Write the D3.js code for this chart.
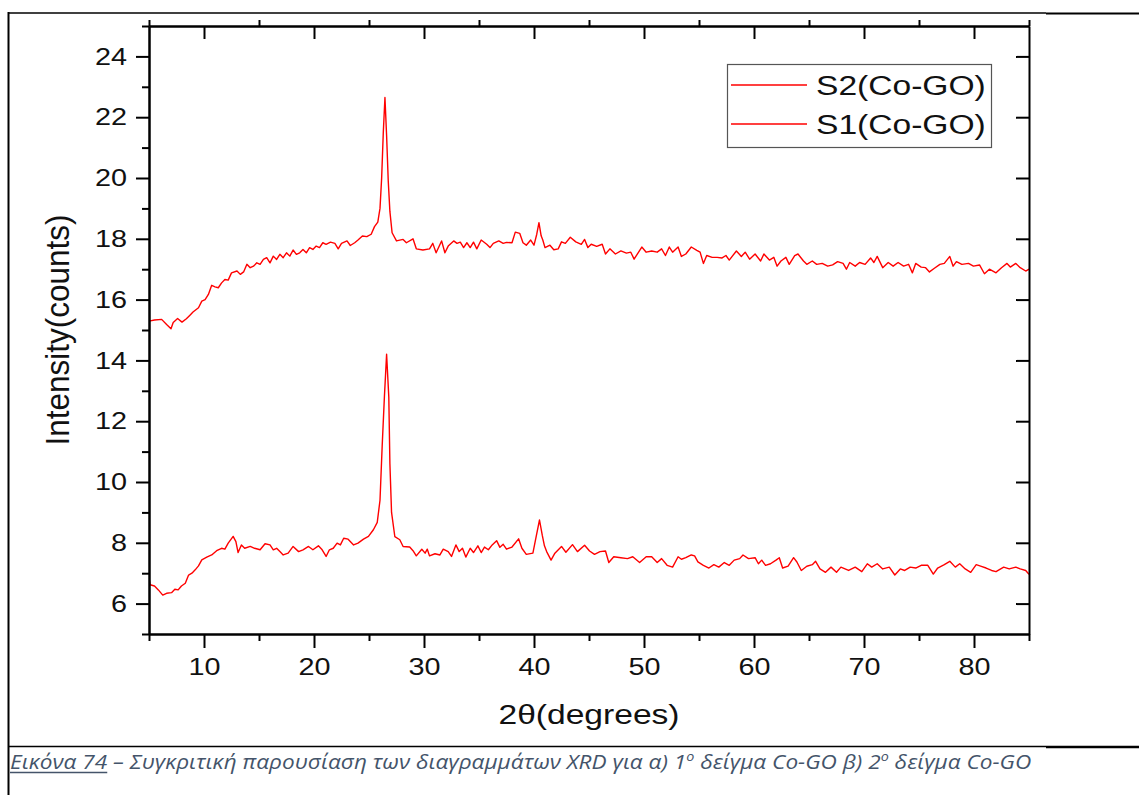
<!DOCTYPE html>
<html>
<head>
<meta charset="utf-8">
<script src="https://cdn.jsdelivr.net/npm/d3@7"></script>
<style>
  html, body { margin: 0; padding: 0; background: #ffffff; }
  svg { display: block; }
</style>
</head>
<body>
<svg id="chart" width="1139" height="795"></svg>
<script>
// ---- XRD patterns (2θ in degrees, intensity in counts) ----
const s2Theta = [5.0, 5.5, 6.15, 6.6, 7.0, 7.2, 7.6, 8.0, 8.4, 8.7, 9.0, 9.5, 9.8, 10.1, 10.4, 10.7, 11.0, 11.3, 11.6, 11.9,
  12.2, 12.5, 13.0, 13.3, 13.6, 13.9, 14.2, 14.5, 14.8, 15.1, 15.4, 15.7, 16.0, 16.3, 16.6, 16.9, 17.2, 17.5, 17.8, 18.1,
  18.4, 18.7, 19.0, 19.3, 19.6, 19.9, 20.2, 20.5, 20.8, 21.1, 21.5, 21.9, 22.2, 22.5, 23.0, 23.3, 23.7, 24.0, 24.4, 24.8,
  25.2, 25.5, 25.8, 26.0, 26.15, 26.3, 26.45, 26.6, 26.75, 26.9, 27.1, 27.5, 28.1, 28.4, 29.0, 29.3, 29.9, 30.5, 30.8, 31.1,
  31.6, 31.9, 32.2, 32.7, 33.0, 33.3, 33.6, 33.9, 34.2, 34.5, 34.8, 35.2, 35.7, 36.0, 36.3, 36.8, 37.2, 37.5, 38.0, 38.3,
  38.7, 39.0, 39.3, 39.7, 40.0, 40.25, 40.45, 40.65, 40.8, 41.0, 41.45, 41.8, 42.2, 42.5, 42.85, 43.3, 43.8, 44.3, 44.6, 44.9,
  45.2, 45.7, 46.2, 46.5, 46.9, 47.4, 47.9, 48.4, 48.8, 49.1, 49.8, 50.2, 50.7, 51.2, 51.6, 51.95, 52.3, 52.6, 53.1, 53.4,
  53.8, 54.3, 54.8, 55.1, 55.4, 55.7, 56.2, 56.65, 57.1, 57.45, 57.75, 58.4, 58.85, 59.2, 59.6, 60.1, 60.6, 60.9, 61.4, 61.8,
  62.1, 62.45, 62.9, 63.2, 63.7, 64.0, 64.5, 64.8, 65.3, 65.7, 66.2, 66.7, 67.15, 67.6, 68.1, 68.4, 68.7, 69.2, 69.6, 70.1,
  70.6, 70.9, 71.2, 71.7, 72.2, 72.65, 73.1, 73.6, 74.05, 74.4, 74.7, 75.2, 75.6, 75.95, 76.4, 76.9, 77.3, 77.8, 78.1, 78.4,
  78.9, 79.5, 79.95, 80.5, 80.95, 81.4, 82.0, 82.5, 83.0, 83.3, 83.8, 84.2, 84.7, 85.0];
const s2Counts = [15.29, 15.33, 15.35, 15.18, 15.04, 15.25, 15.38, 15.26, 15.37, 15.48, 15.59, 15.73, 15.95, 16.0, 16.17, 16.47, 16.42, 16.39, 16.55, 16.66,
  16.64, 16.88, 16.94, 16.83, 16.91, 17.16, 17.05, 17.1, 17.21, 17.16, 17.32, 17.38, 17.21, 17.43, 17.32, 17.49, 17.38, 17.54, 17.43, 17.63,
  17.49, 17.54, 17.65, 17.54, 17.71, 17.65, 17.76, 17.71, 17.87, 17.82, 17.89, 17.85, 17.67, 17.85, 17.93, 17.78, 17.87, 17.96, 18.09, 18.07,
  18.15, 18.4, 18.55, 19.0, 20.0, 21.5, 22.65, 21.4, 19.9, 18.9, 18.2, 17.93, 17.98, 17.87, 18.0, 17.67, 17.63, 17.67, 17.85, 17.54,
  17.93, 17.54, 17.76, 17.93, 17.85, 17.89, 17.71, 17.87, 17.71, 17.89, 17.67, 17.96, 17.82, 17.71, 17.85, 17.93, 17.85, 17.88, 17.87, 18.22,
  18.18, 17.87, 17.79, 17.96, 17.79, 18.15, 18.53, 18.1, 17.96, 17.71, 17.79, 17.64, 17.67, 17.9, 17.85, 18.05, 17.9, 17.82, 17.98, 17.71,
  17.82, 17.75, 17.82, 17.5, 17.67, 17.5, 17.6, 17.53, 17.56, 17.33, 17.73, 17.56, 17.6, 17.56, 17.67, 17.45, 17.73, 17.56, 17.73, 17.42,
  17.5, 17.73, 17.62, 17.56, 17.19, 17.45, 17.39, 17.39, 17.37, 17.45, 17.3, 17.6, 17.42, 17.56, 17.33, 17.5, 17.27, 17.5, 17.3, 17.39,
  17.1, 17.27, 17.39, 17.16, 17.45, 17.5, 17.27, 17.16, 17.27, 17.16, 17.19, 17.1, 17.14, 17.25, 17.19, 17.0, 17.22, 17.1, 17.22, 17.16,
  17.37, 17.22, 17.42, 17.05, 17.22, 17.1, 17.22, 17.1, 17.16, 16.88, 17.19, 17.07, 17.05, 16.91, 17.03, 17.16, 17.19, 17.42, 17.1, 17.25,
  17.16, 17.19, 17.1, 17.14, 16.85, 17.0, 16.88, 17.05, 17.19, 17.07, 17.19, 17.05, 16.94, 17.0];

const s1Theta = [5.0, 5.1, 5.5, 5.85, 6.25, 6.6, 7.05, 7.35, 7.65, 7.95, 8.3, 8.6, 8.9, 9.2, 9.5, 9.8, 10.25, 10.7, 11.15, 11.6,
  11.9, 12.2, 12.65, 12.9, 13.1, 13.4, 13.7, 14.2, 14.6, 15.1, 15.55, 16.0, 16.3, 16.6, 16.9, 17.2, 17.65, 18.1, 18.6, 19.0,
  19.5, 19.9, 20.4, 20.7, 21.1, 21.4, 21.75, 22.1, 22.4, 22.7, 23.1, 23.6, 24.0, 24.5, 24.95, 25.4, 25.75, 26.0, 26.2, 26.4,
  26.6, 26.8, 26.9, 27.05, 27.35, 27.8, 28.1, 28.7, 29.0, 29.3, 29.8, 30.1, 30.3, 30.5, 31.0, 31.45, 31.75, 32.2, 32.5, 32.9,
  33.2, 33.5, 33.8, 34.2, 34.5, 34.9, 35.2, 35.5, 35.85, 36.2, 36.6, 36.9, 37.2, 37.5, 38.0, 38.6, 38.9, 39.3, 39.9, 40.25,
  40.5, 40.75, 40.95, 41.15, 41.55, 41.9, 42.5, 42.9, 43.5, 43.95, 44.6, 45.05, 45.5, 46.0, 46.5, 46.8, 47.25, 47.9, 48.5, 48.98,
  49.6, 50.2, 50.7, 51.2, 51.6, 52.1, 52.6, 53.1, 53.4, 53.8, 54.3, 54.6, 54.9, 55.4, 55.9, 56.35, 56.8, 57.3, 57.75, 58.2,
  58.7, 59.0, 59.5, 60.1, 60.4, 60.7, 61.05, 61.5, 62.0, 62.3, 62.6, 63.1, 63.6, 63.9, 64.3, 64.8, 65.3, 65.6, 66.0, 66.5,
  67.0, 67.5, 67.9, 68.6, 69.2, 69.8, 70.3, 70.7, 71.2, 71.7, 72.3, 72.8, 73.3, 73.7, 74.2, 74.7, 75.2, 75.8, 76.3, 76.7,
  77.3, 77.8, 78.3, 78.7, 79.2, 79.7, 80.2, 80.6, 81.1, 81.6, 82.0, 82.7, 83.2, 83.8, 84.2, 84.7, 85.0];
const s1Counts = [6.85, 6.62, 6.58, 6.45, 6.28, 6.34, 6.36, 6.47, 6.45, 6.58, 6.67, 6.94, 7.0, 7.11, 7.24, 7.44, 7.53, 7.6, 7.74, 7.82,
  7.79, 7.99, 8.21, 8.04, 7.68, 7.93, 7.82, 7.88, 7.82, 7.77, 7.97, 7.93, 7.77, 7.82, 7.71, 7.6, 7.66, 7.88, 7.71, 7.77,
  7.88, 7.77, 7.9, 7.79, 7.55, 7.77, 7.82, 7.99, 7.93, 8.15, 8.12, 7.93, 7.99, 8.12, 8.21, 8.43, 8.67, 9.4, 11.2, 12.8,
  14.2, 12.8, 10.6, 9.0, 8.2, 8.1, 7.88, 7.86, 7.74, 7.57, 7.79, 7.66, 7.79, 7.57, 7.64, 7.6, 7.79, 7.71, 7.55, 7.93,
  7.71, 7.82, 7.53, 7.82, 7.68, 7.9, 7.68, 7.86, 7.77, 7.93, 8.07, 7.85, 7.95, 7.79, 7.86, 8.13, 7.82, 7.62, 7.66, 8.3,
  8.75, 8.25, 7.9, 7.71, 7.43, 7.66, 7.88, 7.69, 7.94, 7.71, 7.92, 7.73, 7.62, 7.71, 7.73, 7.35, 7.54, 7.51, 7.48, 7.54,
  7.35, 7.54, 7.54, 7.35, 7.48, 7.26, 7.2, 7.54, 7.46, 7.51, 7.6, 7.57, 7.37, 7.26, 7.17, 7.28, 7.2, 7.35, 7.26, 7.43,
  7.48, 7.6, 7.48, 7.51, 7.31, 7.43, 7.26, 7.31, 7.43, 7.51, 7.17, 7.23, 7.51, 7.37, 7.09, 7.23, 7.28, 7.39, 7.14, 7.03,
  7.2, 7.03, 7.2, 7.09, 7.2, 7.05, 7.31, 7.2, 7.31, 7.14, 7.2, 6.94, 7.14, 7.09, 7.2, 7.17, 7.26, 7.26, 6.97, 7.17,
  7.28, 7.39, 7.2, 7.31, 7.14, 7.03, 7.28, 7.23, 7.17, 7.09, 7.05, 7.2, 7.14, 7.2, 7.14, 7.09, 6.96];

const seriesNames = ["S2(Co-GO)", "S1(Co-GO)"];
const xMajorTicks = [10, 20, 30, 40, 50, 60, 70, 80];
const xMinorTicks = [5, 15, 25, 35, 45, 55, 65, 75, 85];
const yMajorTicks = [6, 8, 10, 12, 14, 16, 18, 20, 22, 24];
const yMinorTicks = [5, 7, 9, 11, 13, 15, 17, 19, 21, 23, 25];
const xTitle = "2θ(degrees)";
const yTitle = "Intensity(counts)";

// ---- layout ----
const svg = d3.select("#chart");
const plot = { left: 149, right: 1029, top: 26, bottom: 634 };
const FONT = "'Liberation Sans', Arial, sans-serif";
const STRETCH = 1.2;   // glyphs are drawn slightly wide, as in the exported figure
const LINE_RED = "#ff0000";

const x = d3.scaleLinear().domain([5, 85]).range([plot.left, plot.right]);
const y = d3.scaleLinear().domain([5, 25]).range([plot.bottom, plot.top]);

// Widen every glyph of a horizontal text node while keeping its anchor.
function widen(sel) {
  sel.each(function () {
    const w = this.getComputedTextLength();
    d3.select(this).attr("textLength", w * STRETCH).attr("lengthAdjust", "spacingAndGlyphs");
  });
}

// ---- page frame (document border and caption rule) ----
const frame = svg.append("g").attr("stroke", "#000").attr("fill", "none");
frame.append("line").attr("x1", 8.5).attr("x2", 8.5).attr("y1", 12).attr("y2", 795).attr("stroke-width", 2);
frame.append("line").attr("x1", 8).attr("x2", 1046).attr("y1", 13).attr("y2", 13).attr("stroke-width", 1.3);
frame.append("line").attr("x1", 1046).attr("x2", 1139).attr("y1", 13.5).attr("y2", 13.5).attr("stroke-width", 2.2);
frame.append("line").attr("x1", 8).attr("x2", 1046).attr("y1", 746.5).attr("y2", 746.5).attr("stroke-width", 1.6);
frame.append("line").attr("x1", 1046).attr("x2", 1139).attr("y1", 747).attr("y2", 747).attr("stroke-width", 2.4);

// ---- data curves ----
svg.append("defs").append("clipPath").attr("id", "plot-clip")
  .append("rect")
  .attr("x", plot.left).attr("y", plot.top)
  .attr("width", plot.right - plot.left).attr("height", plot.bottom - plot.top);

const line = d3.line().x(d => x(d[0])).y(d => y(d[1]));
const series = [
  { name: seriesNames[0], pts: d3.zip(s2Theta, s2Counts) },
  { name: seriesNames[1], pts: d3.zip(s1Theta, s1Counts) }
];
svg.append("g").attr("clip-path", "url(#plot-clip)")
  .selectAll("path").data(series).join("path")
  .attr("d", d => line(d.pts))
  .attr("fill", "none")
  .attr("stroke", LINE_RED)
  .attr("stroke-width", 1.4)
  .attr("stroke-linejoin", "round");

// ---- axes ----
function styleAxis(g) {
  g.selectAll("path.domain").attr("stroke", "#000").attr("stroke-width", 2);
  g.selectAll(".tick line").attr("stroke", "#000").attr("stroke-width", 2);
  g.selectAll(".tick text").attr("font-family", FONT).attr("font-size", 24).attr("fill", "#111");
}

// bottom: labelled majors and minors, all outward
svg.append("g").attr("transform", `translate(0,${plot.bottom})`)
  .call(d3.axisBottom(x).tickValues(xMinorTicks).tickSize(7).tickSizeOuter(0).tickFormat(""))
  .call(styleAxis);
const xAxisG = svg.append("g").attr("transform", `translate(0,${plot.bottom})`)
  .call(d3.axisBottom(x).tickValues(xMajorTicks).tickSize(14).tickPadding(10).tickSizeOuter(0).tickFormat(d3.format("d")))
  .call(styleAxis);
xAxisG.selectAll(".tick text").call(widen);

// left: labelled majors and minors, all outward
svg.append("g").attr("transform", `translate(${plot.left},0)`)
  .call(d3.axisLeft(y).tickValues(yMinorTicks).tickSize(7).tickSizeOuter(0).tickFormat(""))
  .call(styleAxis);
const yAxisG = svg.append("g").attr("transform", `translate(${plot.left},0)`)
  .call(d3.axisLeft(y).tickValues(yMajorTicks).tickSize(13).tickPadding(9).tickSizeOuter(0).tickFormat(d3.format("d")))
  .call(styleAxis);
yAxisG.selectAll(".tick text").call(widen);

// top: majors inward, minors outward, no labels
svg.append("g").attr("transform", `translate(0,${plot.top})`)
  .call(d3.axisTop(x).tickValues(xMajorTicks).tickSize(-13).tickSizeOuter(0).tickFormat(""))
  .call(styleAxis);
svg.append("g").attr("transform", `translate(0,${plot.top})`)
  .call(d3.axisTop(x).tickValues(xMinorTicks).tickSize(6).tickSizeOuter(0).tickFormat(""))
  .call(styleAxis);

// right: majors inward, no labels
svg.append("g").attr("transform", `translate(${plot.right},0)`)
  .call(d3.axisRight(y).tickValues(yMajorTicks).tickSize(-13).tickSizeOuter(0).tickFormat(""))
  .call(styleAxis);

// ---- axis titles ----
svg.append("g").attr("transform", `translate(${(plot.left + plot.right) / 2},724) scale(${STRETCH},1)`)
  .append("text")
  .attr("text-anchor", "middle")
  .attr("font-family", FONT).attr("font-size", 28).attr("fill", "#111")
  .text(xTitle);

svg.append("g").attr("transform", `translate(69,${(plot.top + plot.bottom) / 2}) scale(1.08,1) rotate(-90)`)
  .append("text")
  .attr("text-anchor", "middle")
  .attr("font-family", FONT).attr("font-size", 31.5).attr("fill", "#111")
  .text(yTitle);

// ---- legend ----
const legend = svg.append("g");
legend.append("rect")
  .attr("x", 727.5).attr("y", 64.5).attr("width", 264).attr("height", 83)
  .attr("fill", "#fff").attr("stroke", "#555").attr("stroke-width", 1.2);
series.forEach((s, i) => {
  const cy = 85 + i * 39;
  legend.append("line")
    .attr("x1", 731).attr("x2", 807).attr("y1", cy).attr("y2", cy)
    .attr("stroke", LINE_RED).attr("stroke-width", 1.3);
  legend.append("g").attr("transform", `translate(816,${cy + 10}) scale(${STRETCH},1)`)
    .append("text")
    .attr("font-family", FONT).attr("font-size", 28).attr("fill", "#111")
    .text(s.name);
});

// ---- figure caption ----
const CAPTION_COLOR = "#44546a";
const capG = svg.append("g");
const cap = capG.append("text")
  .attr("font-family", "'Open Sans', 'Noto Sans', sans-serif")
  .attr("font-style", "italic")
  .attr("font-size", 20.5)
  .attr("fill", CAPTION_COLOR);
const capLabel = cap.append("tspan").text("Εικόνα 74");
cap.append("tspan").text(" – Συγκριτική παρουσίαση των διαγραμμάτων XRD για α) 1");
cap.append("tspan").attr("dy", -8).attr("font-size", 13).text("ο");
cap.append("tspan").attr("dy", 8).text(" δείγμα Co-GO β) 2");
cap.append("tspan").attr("dy", -8).attr("font-size", 13).text("ο");
cap.append("tspan").attr("dy", 8).text(" δείγμα Co-GO");

const labelW = capLabel.node().getComputedTextLength();
capG.append("line")
  .attr("x1", 0).attr("x2", labelW).attr("y1", 3.5).attr("y2", 3.5)
  .attr("stroke", CAPTION_COLOR).attr("stroke-width", 1.4);
const capW = cap.node().getBBox().width;
capG.attr("transform", `translate(10,769) scale(${1022 / capW},1)`);
</script>
</body>
</html>
